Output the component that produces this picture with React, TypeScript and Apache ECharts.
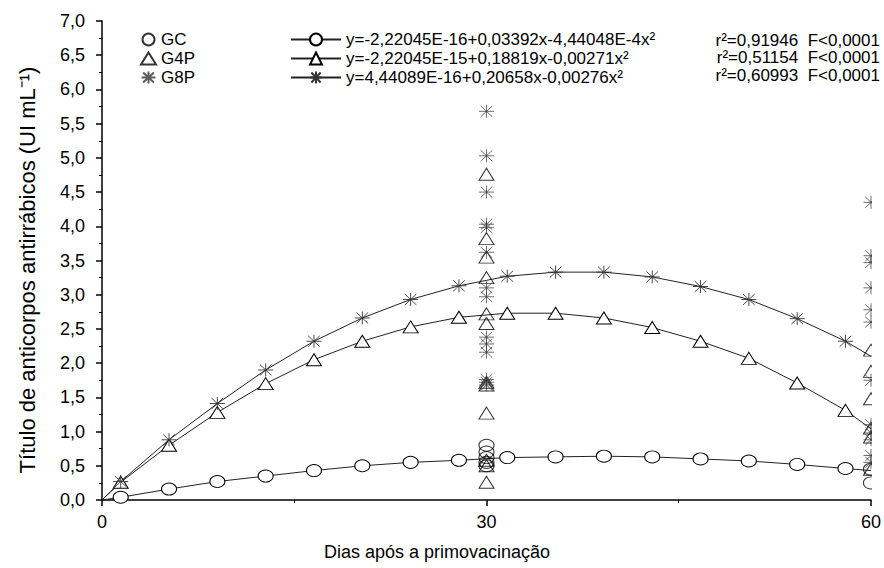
import React, { useEffect, useRef } from "react";
import * as echarts from "echarts";

// Fitted-curve sample days (marker positions) and values
const fitDays = [0, 1.46, 5.23, 9.0, 12.77, 16.54, 20.31, 24.08, 27.85, 31.62, 35.39, 39.16, 42.93, 46.7, 50.47, 54.24, 58.01, 60];
const fitGC = [0, 0.04, 0.16, 0.27, 0.35, 0.43, 0.5, 0.55, 0.58, 0.62, 0.63, 0.64, 0.63, 0.6, 0.57, 0.52, 0.46, 0.43];
const fitG4P = [0, 0.26, 0.8, 1.28, 1.7, 2.05, 2.32, 2.53, 2.67, 2.73, 2.73, 2.66, 2.52, 2.32, 2.07, 1.71, 1.31, 1.04];
const fitG8P = [0, 0.27, 0.88, 1.41, 1.9, 2.32, 2.66, 2.93, 3.13, 3.27, 3.33, 3.33, 3.26, 3.12, 2.93, 2.65, 2.32, 2.1];

// Observed titres on day 30 and day 60
const gcDay30 = [0.8, 0.7, 0.62, 0.55, 0.5];
const gcDay60 = [0.45, 0.25];
const g4pDay30 = [4.76, 3.82, 3.55, 3.25, 2.72, 2.58, 1.72, 1.68, 1.27, 0.58, 0.5, 0.26];
const g4pDay60 = [2.19, 1.88, 1.48, 1.05, 0.92, 0.45];
const g8pDay30 = [5.68, 5.03, 4.5, 4.03, 3.98, 3.62, 3.1, 2.97, 2.38, 2.28, 2.16, 1.76, 1.72, 1.68];
const g8pDay60 = [4.35, 3.57, 3.47, 3.1, 2.78, 2.6, 1.75, 1.1, 0.98, 0.88, 0.65, 0.55];

const groupNames = ["GC", "G4P", "G8P"];
const fitNames = ["eqGC", "eqG4P", "eqG8P"];
const equations = [
  "y=-2,22045E-16+0,03392x-4,44048E-4x²",
  "y=-2,22045E-15+0,18819x-0,00271x²",
  "y=4,44089E-16+0,20658x-0,00276x²",
];
const statTexts = ["r²=0,91946  F<0,0001", "r²=0,51154  F<0,0001", "r²=0,60993  F<0,0001"];

const FONT = "'Liberation Sans', Arial, sans-serif";
const STAR = "path://M0,6 L14,6 M7,0 L7,12 M1.6,1 L12.4,11 M12.4,1 L1.6,11";
const symbols = ["circle", "triangle", STAR];
const sizes = [[15, 12], [15, 12], [15, 13]];

export default function App() {
  const ref = useRef<HTMLDivElement>(null);
  useEffect(() => {
    if (!ref.current) return;
    const chart = echarts.init(ref.current, null, { renderer: "svg" });
    const fits = [fitGC, fitG4P, fitG8P];
    const obs = [
      [gcDay30, gcDay60],
      [g4pDay30, g4pDay60],
      [g8pDay30, g8pDay60],
    ];
    const lineSeries = fits.map((vals, i) => ({
      type: "line",
      name: fitNames[i],
      data: vals.map((v, j) => {
        const item: any = { value: [fitDays[j], v] };
        if (j === 0 || j === vals.length - 1) item.symbol = "none";
        return item;
      }),
      symbol: symbols[i],
      symbolSize: sizes[i],
      showSymbol: true,
      showAllSymbol: true,
      lineStyle: { color: "#222", width: 1 },
      itemStyle: {
        color: i === 2 ? "#333" : "#fff",
        borderColor: i === 2 ? "#333" : "#000",
        borderWidth: i === 2 ? 0.9 : 1,
      },
      z: 2,
    }));
    const scatterSeries = obs.map((pair, i) => ({
      type: "scatter",
      name: groupNames[i],
      data: [
        ...pair[0].map((v) => [30, v]),
        ...pair[1].map((v) => [60, v]),
      ],
      symbol: symbols[i],
      symbolSize: sizes[i],
      itemStyle: {
        color: i === 2 ? "#333" : "rgba(255,255,255,0)",
        borderColor: i === 2 ? "#333" : "#000",
        borderWidth: i === 2 ? 0.9 : 1,
      },
      z: 3,
    }));

    chart.setOption({
      animation: false,
      backgroundColor: "#fff",
      textStyle: { fontFamily: FONT },
      grid: { left: 102, right: 13, top: 21, bottom: 68, containLabel: false },
      xAxis: {
        type: "value",
        min: 0,
        max: 60,
        interval: 30,
        axisLine: { lineStyle: { color: "#000", width: 1.5 } },
        axisTick: { show: true, inside: false, length: 6, lineStyle: { color: "#000", width: 1.5 } },
        minorTick: { show: true, splitNumber: 2, length: 3, lineStyle: { color: "#000", width: 1 } },
        splitLine: { show: false },
        axisLabel: { color: "#000", fontSize: 18, fontFamily: FONT, margin: 13 },
      },
      yAxis: {
        type: "value",
        min: 0,
        max: 7,
        interval: 0.5,
        axisLine: { show: true, lineStyle: { color: "#000", width: 1.5 } },
        axisTick: { show: true, inside: false, length: 6, lineStyle: { color: "#000", width: 1.5 } },
        minorTick: { show: true, splitNumber: 2, length: 3, lineStyle: { color: "#000", width: 1 } },
        splitLine: { show: false },
        axisLabel: {
          color: "#000",
          fontSize: 18,
          fontFamily: FONT,
          margin: 17,
          formatter: (v: number) => v.toFixed(1).replace(".", ","),
        },
      },
      legend: [
        {
          data: groupNames,
          orient: "vertical",
          left: 135,
          top: 26,
          itemWidth: 15,
          itemHeight: 12,
          itemGap: 2,
          textStyle: { color: "#000", fontSize: 17, lineHeight: 17, fontFamily: FONT },
          selectedMode: false,
        },
        {
          data: fitNames,
          orient: "vertical",
          left: 285,
          top: 26,
          itemWidth: 50,
          itemHeight: 15,
          itemGap: 2,
          textStyle: { color: "#000", fontSize: 17, lineHeight: 17, fontFamily: FONT },
          formatter: (n: string) => equations[fitNames.indexOf(n)],
          selectedMode: false,
        },
      ],
      graphic: [
        ...statTexts.map((t, i) => ({
          type: "text",
          x: 880,
          y: 40 + i * 17.5,
          z: 10,
          style: {
            text: t,
            fill: "#000",
            fontSize: 17,
            fontFamily: FONT,
            align: "right",
            verticalAlign: "middle",
          },
        })),
        {
          type: "rect",
          shape: { x: 872, y: 110, width: 12, height: 389 },
          style: { fill: "#fff" },
          z: 100,
        },
        {
          type: "text",
          x: 437,
          y: 552,
          style: {
            text: "Dias após a primovacinação",
            fill: "#000",
            fontSize: 18,
            fontFamily: FONT,
            align: "center",
            verticalAlign: "middle",
          },
        },
        {
          type: "text",
          x: 27,
          y: 270,
          rotation: Math.PI / 2,
          style: {
            text: "Título de anticorpos antirrábicos (UI mL⁻¹)",
            fill: "#000",
            fontSize: 22,
            fontFamily: FONT,
            align: "center",
            verticalAlign: "middle",
          },
        },
      ],
      series: [...lineSeries, ...scatterSeries],
    });
    return () => chart.dispose();
  }, []);
  return (
    <div
      ref={ref}
      style={{ position: "fixed", left: 0, top: 0, width: 884, height: 568 }}
    />
  );
}
